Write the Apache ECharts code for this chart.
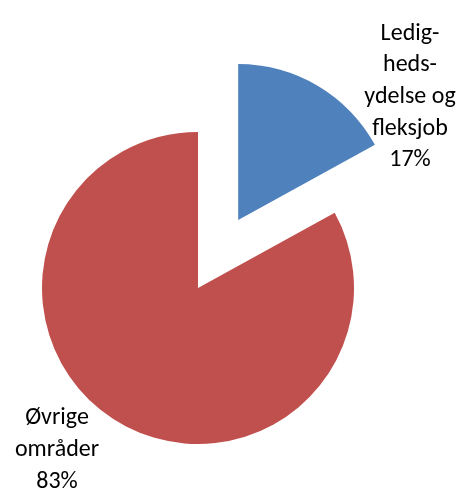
<!DOCTYPE html>
<html>
<head>
<meta charset="utf-8">
<script src="https://cdn.jsdelivr.net/npm/echarts@6/dist/echarts.min.js"></script>
<style>
html,body{margin:0;padding:0;background:#fff;}
#chart{width:465px;height:494px;}
</style>
</head>
<body>
<div id="chart"></div>
<script>
const categories = ['Ledig-\nheds-\nydelse og\nfleksjob', 'Øvrige\nområder'];
const values = [17, 83];
const colors = ['#4F81BD', '#C0504D'];
const exploded = [true, false];

const labelPos = [[410, 97], [57, 450]];
const pieCenter = [198, 288];
const pieRadius = 156;
const explodeOffset = 79;

const total = values.reduce(function (a, b) { return a + b; }, 0);

function sliceCenter(idx) {
  if (!exploded[idx]) return pieCenter;
  let before = 0;
  for (let i = 0; i < idx; i++) before += values[i];
  const midFrac = (before + values[idx] / 2) / total;
  const ang = (90 - midFrac * 360) * Math.PI / 180;
  return [pieCenter[0] + explodeOffset * Math.cos(ang), pieCenter[1] - explodeOffset * Math.sin(ang)];
}

const chart = echarts.init(document.getElementById('chart'), null, {renderer: 'canvas'});
const series = categories.map(function (cat, k) {
  return {
    type: 'pie',
    center: sliceCenter(k),
    radius: pieRadius,
    startAngle: 90,
    clockwise: true,
    avoidLabelOverlap: false,
    emphasis: {disabled: true},
    label: {
      show: true,
      position: 'inside',
      color: '#000',
      fontFamily: 'Carlito, Lato, sans-serif',
      fontSize: 24,
      lineHeight: 31.6,
      align: 'center',
      verticalAlign: 'middle',
      formatter: function (p) { return p.name + '\n' + Math.round(p.percent) + '%'; }
    },
    labelLine: {show: false},
    labelLayout: function (params) {
      if (params.dataIndex !== k) return {};
      const pos = labelPos[k];
      return {x: pos[0], y: pos[1], align: 'center', verticalAlign: 'middle'};
    },
    data: categories.map(function (c, i) {
      const own = i === k;
      return {
        name: c,
        value: values[i],
        itemStyle: {color: own ? colors[i] : 'rgba(0,0,0,0)'},
        label: {show: own}
      };
    })
  };
});

chart.setOption({
  animation: false,
  backgroundColor: '#ffffff',
  series: series
});
</script>
</body>
</html>
